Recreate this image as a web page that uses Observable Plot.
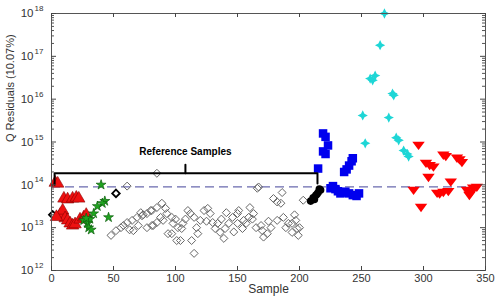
<!DOCTYPE html>
<html><head><meta charset="utf-8">
<script src="https://cdn.jsdelivr.net/npm/d3@7"></script>
<script src="https://cdn.jsdelivr.net/npm/@observablehq/plot@0.6"></script>
<style>
html,body{margin:0;padding:0;background:#fff;}
svg{font-family:"Liberation Sans",Arial,sans-serif;}
</style></head><body><div id="chart"></div>
<script>
// ---- data: sample number and log10(Q residual) ----
const redUpSample = [3,5,10,13,17,20,22,7,9,11,13,15,17,19,23,26,28,4];
const redUpLogQ   = [14.05,14.03,13.68,13.66,13.68,13.7,13.68,13.3,13.4,13.22,13.17,13.1,13.05,13.08,13.19,13.24,13.3,13.25];

const greenSample = [40,43,41,37,34,31,29,30,32,46,26,28];
const greenLogQ   = [14.0,13.62,13.57,13.5,13.33,13.2,13.1,13.0,12.95,13.24,13.17,13.22];

const blackDiaSample = [1,52];
const blackDiaLogQ   = [13.3,13.8];

const refSample = [48,52,56,58,61,65,69,73,77,81,85,89,77,81,85,90,94,72,66,61,85,
  74,80,82,88,93,97,98,97,101,104,105,106,110,112,115,113,115,118,120,123,126,128,130,132,134,136,139,140,143,146,150,
  151,155,154,159,160,163,150,166,167,169,170,171,174,177,179,182,185,186,182,187,191,194,197,198,199,194,203,
  108,117,125,137,141,147,157,162,165,175,189,196,200,63,70,92,100,102];
const refLogQ = [12.82,12.93,13.0,13.05,13.12,13.17,13.24,13.28,13.33,13.4,13.47,13.57,13.0,13.05,13.12,13.17,12.86,13.35,12.93,13.97,14.27,
  13.3,13.4,13.05,13.24,13.33,13.24,13.1,12.86,12.7,12.7,12.98,13.1,13.4,13.33,13.24,12.7,12.4,12.86,13.17,13.4,13.45,13.33,13.12,12.98,13.1,12.89,12.75,12.98,13.1,13.24,13.33,
  13.4,13.17,12.98,13.24,13.47,13.33,13.1,13.92,13.95,13.05,12.93,12.78,12.86,13.0,13.68,13.6,13.57,13.82,13.17,13.24,13.1,13.1,13.17,12.98,12.82,12.89,13.64,
  13.2,13.0,13.15,13.2,13.35,12.9,13.1,13.2,13.0,13.15,13.0,13.3,13.0,12.95,13.05,13.45,13.2,13.0];

const blackDotSample = [209,211,213,215,216,217,212,214];
const blackDotLogQ   = [13.62,13.7,13.75,13.82,13.9,13.88,13.66,13.78];

const blueSample = [219,221,223,219,221,215,227,229,231,234,237,240,243,246,248,236,238,240,242,243,225,233];
const blueLogQ   = [15.2,15.12,14.92,14.78,14.72,14.38,13.97,13.9,13.85,13.82,13.84,13.8,13.76,13.74,13.8,14.3,14.36,14.45,14.55,14.62,13.92,13.8];

const cyanSample = [268.5,265,257,261,259,276,275,251,272,253,280,284,287,288,278];
const cyanLogQ   = [18.0,17.26,16.48,16.55,16.44,16.09,16.13,15.62,15.57,14.97,15.04,14.8,14.72,14.66,15.1];

const redDownSample = [296,316,318,327,329,331,302,305,308,304,322,292,311,316,320,335,338,340,343,298,337,313];
const redDownLogQ   = [14.92,14.69,14.66,14.62,14.58,14.52,14.5,14.45,14.41,14.17,14.06,13.87,13.8,13.82,13.84,13.87,13.8,13.92,13.94,13.47,13.75,13.78];

const limitQ = 9e13;

const bracketSample = [2.5,2.5,214.5,214.5];
const bracketLogQ   = [14.0,14.27,14.27,14.03];
const braceTipSample = [108,108];
const braceTipLogQ   = [14.27,14.47];
const bracketLabel = "Reference Samples";
const bracketLabelSample = 108, bracketLabelLogQ = 14.78;

const xTicks = [0,50,100,150,200,250,300,350];
const yTicks = [1e12,1e13,1e14,1e15,1e16,1e17,1e18];
const yTickExp = ["12","13","14","15","16","17","18"];
const xLabel = "Sample";
const yLabel = "Q Residuals (10.07%)";

// ---- helpers ----
const pts = (s, l) => s.map((d, i) => ({s: d, q: Math.pow(10, l[i])}));
const downTri = {draw(ctx, size){ const r = Math.sqrt(size/Math.PI);
  ctx.moveTo(-1.35*r,-0.8*r); ctx.lineTo(1.35*r,-0.8*r); ctx.lineTo(0,1.0*r); ctx.closePath(); }};
const star4 = {draw(ctx, size){ const r = Math.sqrt(size/Math.PI), a = 1.35*r, b = 0.45*r;
  ctx.moveTo(0,-a); ctx.lineTo(b,-b); ctx.lineTo(a,0); ctx.lineTo(b,b); ctx.lineTo(0,a);
  ctx.lineTo(-b,b); ctx.lineTo(-a,0); ctx.lineTo(-b,-b); ctx.closePath(); }};

const W = 498, H = 300, mL = 51, mR = 13, mT = 13, mB = 30;
const pw = W - mL - mR, ph = H - mT - mB;
const yMinor = d3.scaleLog().domain([1e12,1e18]).ticks().filter(v => !yTicks.includes(v));

const chart = Plot.plot({
  width: W, height: H, marginLeft: mL, marginRight: mR, marginTop: mT, marginBottom: mB,
  style: {fontFamily: '"Liberation Sans", Arial, sans-serif', background: "#fff"},
  x: {domain: [0, 350]},
  y: {type: "log", domain: [1e12, 1e18]},
  marks: [
    Plot.ruleY([limitQ], {stroke: "#6a6aae", strokeWidth: 1.3, strokeDasharray: "9,5"}),
    Plot.dot(pts(refSample, refLogQ), {x: "s", y: "q", symbol: "diamond2", r: 3.6, stroke: "#666", fill: "none", strokeWidth: 1}),
    Plot.dot(pts(blackDiaSample, blackDiaLogQ), {x: "s", y: "q", symbol: "diamond2", r: 3.4, stroke: "#000", fill: "none", strokeWidth: 1.8}),
    Plot.dot(pts(redUpSample, redUpLogQ), {x: "s", y: "q", symbol: "triangle", r: 4.6, fill: "#ee1111", stroke: "#8a0000", strokeWidth: 0.6}),
    Plot.dot(pts(greenSample, greenLogQ), {x: "s", y: "q", symbol: "star", r: 3.1, fill: "#1fa31f", stroke: "#0b5e0b", strokeWidth: 0.7}),
    Plot.dot(pts(blackDotSample, blackDotLogQ), {x: "s", y: "q", symbol: "circle", r: 3.8, fill: "#000", stroke: "none"}),
    Plot.dot(pts(blueSample, blueLogQ), {x: "s", y: "q", symbol: "square", r: 4.8, fill: "#0000ee", stroke: "none"}),
    Plot.dot(pts(cyanSample, cyanLogQ), {x: "s", y: "q", symbol: star4, r: 3.8, fill: "#1ed6d6", stroke: "none"}),
    Plot.dot(pts(redDownSample, redDownLogQ), {x: "s", y: "q", symbol: downTri, r: 4.6, fill: "#ff0000", stroke: "none"}),
    Plot.line(pts(bracketSample, bracketLogQ), {x: "s", y: "q", stroke: "#000", strokeWidth: 2}),
    Plot.line(pts(braceTipSample, braceTipLogQ), {x: "s", y: "q", stroke: "#000", strokeWidth: 2}),
    Plot.text([bracketLabel], {x: bracketLabelSample, y: Math.pow(10, bracketLabelLogQ), fontWeight: "bold", fontSize: 10, fill: "#000"}),
    Plot.frame({stroke: "#555"}),
    // inward ticks
    Plot.tickY(yTicks, {y: d => d, insetRight: pw - 5, stroke: "#444"}),
    Plot.tickY(yTicks, {y: d => d, insetLeft: pw - 5, stroke: "#444"}),
    Plot.tickY(yMinor, {y: d => d, insetRight: pw - 3, stroke: "#555"}),
    Plot.tickY(yMinor, {y: d => d, insetLeft: pw - 3, stroke: "#555"}),
    Plot.tickX(xTicks, {x: d => d, insetTop: ph - 4, stroke: "#444"}),
    Plot.tickX(xTicks, {x: d => d, insetBottom: ph - 4, stroke: "#444"}),
    Plot.axisX({ticks: xTicks, tickSize: 0, tickPadding: 4, label: null, fontSize: 11, fill: "#333"}),
    Plot.axisY({ticks: yTicks, tickFormat: () => "10", tickSize: 0, tickPadding: 18, label: null, fontSize: 11.5, fill: "#333"}),
    Plot.text(yTicks, {y: d => d, text: (d, i) => yTickExp[i], frameAnchor: "left", dx: -17, dy: -5, textAnchor: "start", fontSize: 8, fill: "#333"}),
    Plot.text([xLabel], {frameAnchor: "bottom", dy: 22, fontSize: 12, fill: "#333"}),
    Plot.text([yLabel], {frameAnchor: "left", dx: -41, rotate: -90, fontSize: 11, fill: "#333"})
  ]
});
document.getElementById("chart").appendChild(chart);
</script></body></html>
